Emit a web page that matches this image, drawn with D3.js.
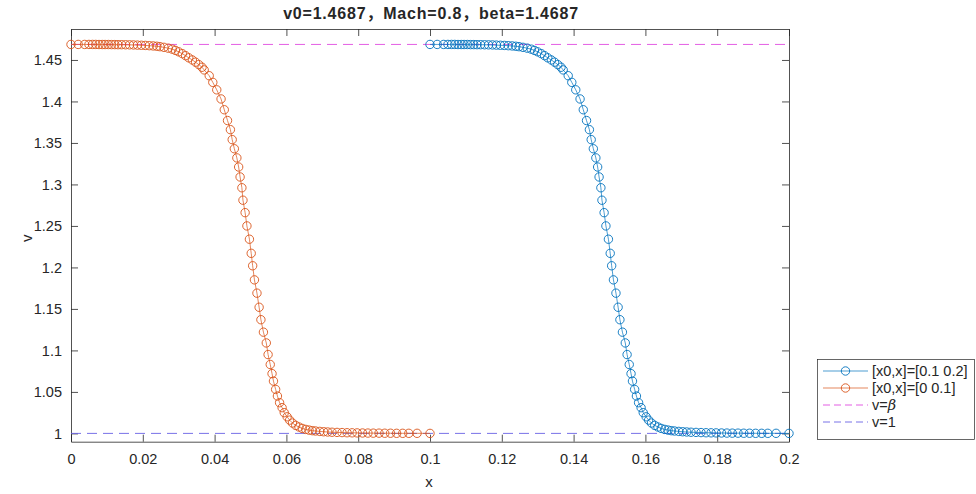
<!DOCTYPE html>
<html>
<head>
<meta charset="utf-8">
<script src="https://cdn.jsdelivr.net/npm/d3@7"></script>
<style>
	html, body { margin: 0; padding: 0; background: #ffffff; }
	#chart text { font-family: "Liberation Sans", Arial, "Noto Sans CJK SC", sans-serif; fill: #262626; }
</style>
</head>
<body>
<div id="chart"></div>
<script>
// values
const titleText = "v0=1.4687，Mach=0.8，beta=1.4687"
const xLabel = "x"
const yLabel = "v"
const xTicks = [0, 0.02, 0.04, 0.06, 0.08, 0.1, 0.12, 0.14, 0.16, 0.18, 0.2]
const yTicks = [1, 1.05, 1.1, 1.15, 1.2, 1.25, 1.3, 1.35, 1.4, 1.45]
const betaValue = 1.4687
const baseValue = 1
const legendLabels = ["[x0,x]=[0.1 0.2]", "[x0,x]=[0 0.1]", "v=β", "v=1"]

// [x0,x]=[0 0.1]
const orangeX = [0, 0.0020, 0.0038, 0.0050, 0.0060, 0.0069, 0.0078, 0.0087, 0.0095, 0.0104,
	0.0113, 0.0122, 0.0131, 0.0141, 0.0152, 0.0163, 0.0174, 0.0185, 0.0196, 0.0207,
	0.0218, 0.0229, 0.0239, 0.0248, 0.0259, 0.0271, 0.0282, 0.0291, 0.0300, 0.0310,
	0.0319, 0.0328, 0.0338, 0.0347, 0.0356, 0.0365, 0.0371, 0.0385, 0.0395, 0.0406,
	0.0418, 0.0427, 0.0436, 0.0444, 0.0449, 0.0455, 0.0462, 0.0467, 0.0471, 0.0476,
	0.0479, 0.0485, 0.0490, 0.0497, 0.0502, 0.0506, 0.0511, 0.0518, 0.0524, 0.0529,
	0.0536, 0.0544, 0.0549, 0.0555, 0.0560, 0.0564, 0.0570, 0.0575, 0.0581, 0.0588,
	0.0594, 0.0602, 0.0609, 0.0617, 0.0626, 0.0635, 0.0644, 0.0654, 0.0663, 0.0672,
	0.0681, 0.0693, 0.0704, 0.0715, 0.0727, 0.0741, 0.0755, 0.0769, 0.0783, 0.0797,
	0.0812, 0.0827, 0.0842, 0.0858, 0.0874, 0.0890, 0.0907, 0.0924, 0.0941, 0.0964,
	0.1000]
const orangeV = [1.4687, 1.4687, 1.4687, 1.4687, 1.4687, 1.4687, 1.4686, 1.4686, 1.4686, 1.4686,
	1.4685, 1.4685, 1.4684, 1.4684, 1.4683, 1.4682, 1.4681, 1.4679, 1.4677, 1.4675,
	1.4672, 1.4669, 1.4665, 1.4660, 1.4652, 1.4642, 1.4630, 1.4615, 1.4598, 1.4576,
	1.4552, 1.4526, 1.4500, 1.4473, 1.4444, 1.4412, 1.4380, 1.431, 1.423, 1.414,
	1.403, 1.390, 1.377, 1.366, 1.354, 1.343, 1.332, 1.321, 1.309, 1.296,
	1.281, 1.266, 1.250, 1.234, 1.217, 1.202, 1.185, 1.169, 1.152, 1.137,
	1.122, 1.109, 1.095, 1.083, 1.072, 1.063, 1.053, 1.045, 1.037, 1.031,
	1.025, 1.020, 1.016, 1.0125, 1.0096, 1.0077, 1.0060, 1.0048, 1.0040, 1.0033,
	1.0029, 1.0024, 1.0020, 1.0017, 1.0014, 1.0012, 1.0010, 1.0008, 1.0007, 1.0006,
	1.0005, 1.0004, 1.0003, 1.0003, 1.0002, 1.0002, 1.0001, 1.0001, 1.0001, 1.0001,
	1.0000]

// [x0,x]=[0.1 0.2]
const blueX = [0.1000, 0.1020, 0.1038, 0.1050, 0.1060, 0.1069, 0.1078, 0.1087, 0.1095, 0.1104,
	0.1113, 0.1122, 0.1131, 0.1141, 0.1152, 0.1163, 0.1174, 0.1185, 0.1196, 0.1207,
	0.1218, 0.1229, 0.1239, 0.1248, 0.1259, 0.1271, 0.1282, 0.1291, 0.1300, 0.1310,
	0.1319, 0.1328, 0.1338, 0.1347, 0.1356, 0.1365, 0.1371, 0.1385, 0.1395, 0.1406,
	0.1418, 0.1427, 0.1436, 0.1444, 0.1449, 0.1455, 0.1462, 0.1467, 0.1471, 0.1476,
	0.1479, 0.1485, 0.1490, 0.1497, 0.1502, 0.1506, 0.1511, 0.1518, 0.1524, 0.1529,
	0.1536, 0.1544, 0.1549, 0.1555, 0.1560, 0.1564, 0.1570, 0.1575, 0.1581, 0.1588,
	0.1594, 0.1602, 0.1609, 0.1617, 0.1626, 0.1635, 0.1644, 0.1654, 0.1663, 0.1672,
	0.1681, 0.1693, 0.1704, 0.1715, 0.1727, 0.1741, 0.1755, 0.1769, 0.1783, 0.1797,
	0.1812, 0.1827, 0.1842, 0.1858, 0.1874, 0.1890, 0.1907, 0.1924, 0.1941, 0.1964,
	0.2000]
const blueV = [1.4687, 1.4687, 1.4687, 1.4687, 1.4687, 1.4687, 1.4686, 1.4686, 1.4686, 1.4686,
	1.4685, 1.4685, 1.4684, 1.4684, 1.4683, 1.4682, 1.4681, 1.4679, 1.4677, 1.4675,
	1.4672, 1.4669, 1.4665, 1.4660, 1.4652, 1.4642, 1.4630, 1.4615, 1.4598, 1.4576,
	1.4552, 1.4526, 1.4500, 1.4473, 1.4444, 1.4412, 1.4380, 1.431, 1.423, 1.414,
	1.403, 1.390, 1.377, 1.366, 1.354, 1.343, 1.332, 1.321, 1.309, 1.296,
	1.281, 1.266, 1.250, 1.234, 1.217, 1.202, 1.185, 1.169, 1.152, 1.137,
	1.122, 1.109, 1.095, 1.083, 1.072, 1.063, 1.053, 1.045, 1.037, 1.031,
	1.025, 1.020, 1.016, 1.0125, 1.0096, 1.0077, 1.0060, 1.0048, 1.0040, 1.0033,
	1.0029, 1.0024, 1.0020, 1.0017, 1.0014, 1.0012, 1.0010, 1.0008, 1.0007, 1.0006,
	1.0005, 1.0004, 1.0003, 1.0003, 1.0002, 1.0002, 1.0001, 1.0001, 1.0001, 1.0001,
	1.0000]

class ShockProfileChart {
	constructor(containerSelector) {
		this.width = 976
		this.height = 494
		this.plot = { left: 71, right: 789, top: 29, bottom: 441.7 }
		this.axisColor = "#262626"
		this.blue = "#0072BD"
		this.orange = "#D95319"
		this.magenta = "#e04de0"
		this.slate = "#6a62e4"
		this.tickLength = 7
		this.markerRadius = 4.2

		this.svg = d3.select(containerSelector).append("svg")
			.attr("width", this.width)
			.attr("height", this.height)

		this.x = d3.scaleLinear().domain([0, 0.2]).range([this.plot.left, this.plot.right])
		this.y = d3.scaleLinear().domain([0.99, 1.4873]).range([this.plot.bottom, this.plot.top])

		this.drawAxes()
		this.drawReferenceLines()
		this.drawSeries(orangeX, orangeV, this.orange)
		this.drawSeries(blueX, blueV, this.blue)
		this.drawLabels()
		this.drawLegend()
	}

	styleAxis(g) {
		g.select(".domain").attr("stroke", this.axisColor).attr("stroke-width", 0.8)
		g.selectAll(".tick line").attr("stroke", this.axisColor).attr("stroke-width", 0.8)
		g.selectAll(".tick text").attr("font-size", "14.5px").attr("fill", this.axisColor)
		g.attr("font-family", null)
	}

	drawAxes() {
		const p = this.plot
		const bottom = this.svg.append("g")
			.attr("transform", "translate(0," + p.bottom + ")")
			.call(d3.axisBottom(this.x).tickValues(xTicks).tickFormat(d => String(d))
				.tickSizeInner(-this.tickLength).tickSizeOuter(0).tickPadding(12))
		this.styleAxis(bottom)

		const top = this.svg.append("g")
			.attr("transform", "translate(0," + p.top + ")")
			.call(d3.axisTop(this.x).tickValues(xTicks).tickFormat("")
				.tickSizeInner(-this.tickLength).tickSizeOuter(0))
		this.styleAxis(top)

		const left = this.svg.append("g")
			.attr("transform", "translate(" + p.left + ",0)")
			.call(d3.axisLeft(this.y).tickValues(yTicks).tickFormat(d => String(d))
				.tickSizeInner(-this.tickLength).tickSizeOuter(0).tickPadding(9))
		this.styleAxis(left)

		const right = this.svg.append("g")
			.attr("transform", "translate(" + p.right + ",0)")
			.call(d3.axisRight(this.y).tickValues(yTicks).tickFormat("")
				.tickSizeInner(-this.tickLength).tickSizeOuter(0))
		this.styleAxis(right)
	}

	drawReferenceLines() {
		const refs = [{ v: betaValue, color: this.magenta }, { v: baseValue, color: this.slate }]
		this.svg.append("g").selectAll("line")
			.data(refs)
			.join("line")
			.attr("x1", this.x(0))
			.attr("x2", this.x(0.2))
			.attr("y1", d => this.y(d.v))
			.attr("y2", d => this.y(d.v))
			.attr("stroke", d => d.color)
			.attr("stroke-width", 0.9)
			.attr("stroke-dasharray", "10,6")
	}

	drawSeries(xs, vs, color) {
		const pts = xs.map((d, i) => [d, vs[i]])
		const g = this.svg.append("g")
		g.append("path")
			.datum(pts)
			.attr("fill", "none")
			.attr("stroke", color)
			.attr("stroke-width", 0.7)
			.attr("d", d3.line().x(d => this.x(d[0])).y(d => this.y(d[1])))
		g.selectAll("circle")
			.data(pts)
			.join("circle")
			.attr("cx", d => this.x(d[0]))
			.attr("cy", d => this.y(d[1]))
			.attr("r", this.markerRadius)
			.attr("fill", "none")
			.attr("stroke", color)
			.attr("stroke-width", 0.9)
	}

	drawLabels() {
		const p = this.plot
		this.svg.append("text")
			.attr("x", (p.left + p.right) / 2 + 1)
			.attr("y", 19)
			.attr("text-anchor", "middle")
			.attr("font-size", "16px")
			.attr("letter-spacing", "0.8px")
			.attr("font-weight", "bold")
			.attr("fill", "#000")
			.text(titleText)

		this.svg.append("text")
			.attr("x", (p.left + p.right) / 2 - 1)
			.attr("y", 487)
			.attr("text-anchor", "middle")
			.attr("font-size", "15px")
			.text(xLabel)

		this.svg.append("text")
			.attr("transform", "translate(32," + ((p.top + p.bottom) / 2 + 3) + ") rotate(-90)")
			.attr("text-anchor", "middle")
			.attr("font-size", "15px")
			.text(yLabel)
	}

	drawLegend() {
		const box = { x: 817.5, y: 359.5, w: 157, h: 80 }
		const legend = this.svg.append("g")
		legend.append("rect")
			.attr("x", box.x).attr("y", box.y)
			.attr("width", box.w).attr("height", box.h)
			.attr("fill", "#fff")
			.attr("stroke", this.axisColor)
			.attr("stroke-width", 0.7)

		const entries = [
			{ label: legendLabels[0], color: this.blue, marker: true, dash: null },
			{ label: legendLabels[1], color: this.orange, marker: true, dash: null },
			{ label: legendLabels[2], color: this.magenta, marker: false, dash: "7,4" },
			{ label: legendLabels[3], color: this.slate, marker: false, dash: "7,4" }
		]
		const rows = legend.selectAll("g.entry")
			.data(entries)
			.join("g")
			.attr("class", "entry")
			.attr("transform", (d, i) => "translate(0," + (371 + i * 17) + ")")

		rows.append("line")
			.attr("x1", 823).attr("x2", 868)
			.attr("stroke", d => d.color)
			.attr("stroke-width", d => d.marker ? 0.7 : 0.9)
			.attr("stroke-dasharray", d => d.dash)
		rows.filter(d => d.marker).append("circle")
			.attr("cx", 845.5).attr("r", this.markerRadius)
			.attr("fill", "none")
			.attr("stroke", d => d.color)
			.attr("stroke-width", 0.9)

		const labels = rows.append("text")
			.attr("x", 872)
			.attr("dy", "0.35em")
			.attr("font-size", "14.5px")
		labels.each(function (d) {
			const t = d3.select(this)
			if (d.label.includes("β")) {
				t.append("tspan").text("v=")
				t.append("tspan").attr("font-style", "italic").attr("font-family", "'DejaVu Serif', serif").text("β")
			} else {
				t.text(d.label)
			}
		})
	}
}

new ShockProfileChart("#chart")
</script>
</body>
</html>
